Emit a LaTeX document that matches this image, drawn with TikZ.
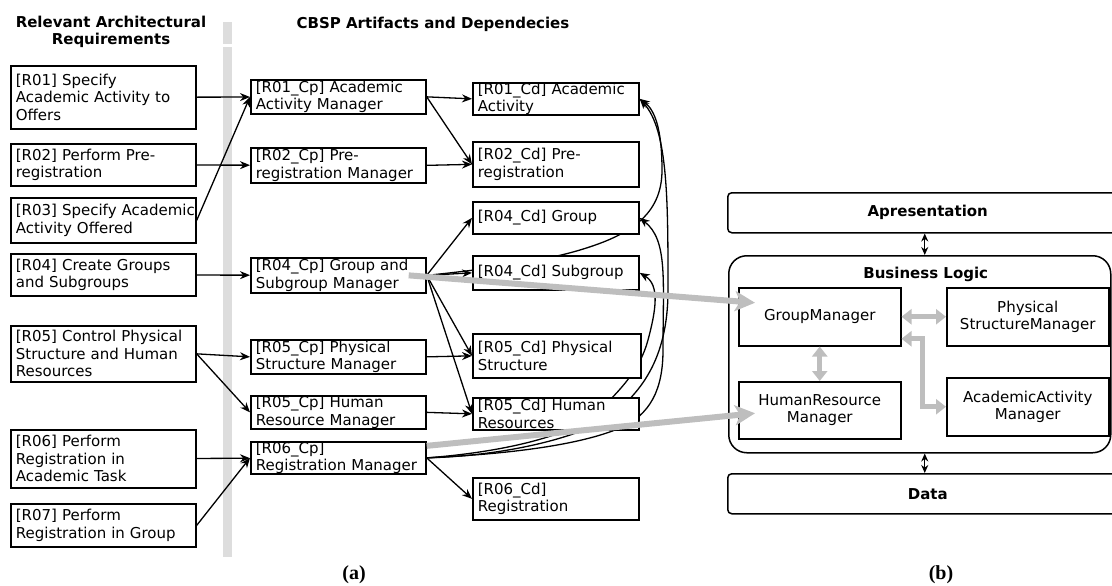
\documentclass[tikz,border=0pt]{standalone}
\usepackage{fontspec}
\setmainfont{DejaVu Sans}
\newfontfamily\capfont{Liberation Serif}
\usepackage{tikz}
\usetikzlibrary{arrows.meta}
\usetikzlibrary{backgrounds}
\newcommand{\boxfont}{\fontsize{15}{17.5}\selectfont}
\definecolor{bargray}{RGB}{221,221,221}
\definecolor{linkgray}{RGB}{190,190,190}
\tikzset{
  req/.style={draw, line width=1.7pt, fill=white, anchor=north west, align=left,
    inner xsep=5pt, inner ysep=0pt, font=\boxfont},
  reqbox/.style={req, text width=175pt},
  cpbox/.style={req, text width=165pt},
  cdbox/.style={req, text width=156pt},
  layerbox/.style={draw, line width=1.5pt, anchor=north west, rounded corners=4pt, font=\boxfont\bfseries},
  compbox/.style={draw, line width=1.5pt, anchor=north west, align=center, minimum width=162pt, font=\boxfont},
  dep/.style={->, line width=1.3pt},
  gdep/.style={{Triangle[length=10pt,width=15pt]}-{Triangle[length=10pt,width=15pt]}, line width=5pt, draw=linkgray},
  link/.style={-{Stealth[length=20pt,width=20pt,inset=5pt]}, line width=6pt, draw=linkgray},
  tier/.style={{Stealth[length=8pt,width=7pt]}-{Stealth[length=8pt,width=7pt]}, line width=1.4pt},
}

\begin{document}
\begin{tikzpicture}[x=1pt,y=-1pt,>={Stealth[length=10pt,width=8pt]}]
\useasboundingbox (0,0) rectangle (1112,586);
% separator
\fill[bargray] (223,22) rectangle (232,44);
\fill[bargray] (223,47) rectangle (232,557);

\node[font=\boxfont\bfseries, align=center] (hreq) at (111,32) {Relevant Architectural\\Requirements};
\node[font=\boxfont\bfseries] (hcbsp) at (433,24) {CBSP Artifacts and Dependecies};

% requirements
\node[reqbox, minimum height=63pt] (r1) at (10,65) {[R01] Specify\\Academic Activity to\\Offers};
\node[reqbox, minimum height=42pt] (r2) at (10,143) {[R02] Perform Pre-\\registration};
\node[reqbox, minimum height=45pt] (r3) at (10,197) {\mbox{[R03] Specify Academic}\\Activity Offered};
\node[reqbox, minimum height=42pt] (r4) at (10,253) {[R04] Create Groups\\and Subgroups};
\node[reqbox, minimum height=56pt] (r5) at (10,325) {[R05] Control Physical\\Structure and Human\\Resources};
\node[reqbox, minimum height=58pt] (r6) at (10,429) {[R06] Perform\\Registration in\\Academic Task};
\node[reqbox, minimum height=43pt] (r7) at (10,503) {[R07] Perform\\Registration in Group};

% components
\node[cpbox, minimum height=34pt] (cp1) at (250,79) {[R01\_Cp] Academic\\Activity Manager};
\node[cpbox, minimum height=35pt] (cp2) at (250,147) {[R02\_Cp] Pre-\\registration Manager};
\node[cpbox, minimum height=35pt] (cp4) at (250,257) {[R04\_Cp] Group and\\Subgroup Manager};
\node[cpbox, minimum height=34pt] (cp5a) at (250,339) {[R05\_Cp] Physical\\Structure Manager};
\node[cpbox, minimum height=33pt] (cp5b) at (250,395) {[R05\_Cp] Human\\Resource Manager};
\node[cpbox, minimum height=32pt] (cp6) at (250,441) {[R06\_Cp]\\Registration Manager};

% data
\node[cdbox, minimum height=31pt] (cd1) at (472,82) {[R01\_Cd] Academic\\Activity};
\node[cdbox, minimum height=45pt] (cd2) at (472,141) {[R02\_Cd] Pre-\\registration};
\node[cdbox, minimum height=32pt] (cd4a) at (472,201) {[R04\_Cd] Group};
\node[cdbox, minimum height=34pt] (cd4b) at (472,255) {[R04\_Cd] Subgroup};
\node[cdbox, text width=158pt, minimum height=44pt] (cd5a) at (472,333) {[R05\_Cd] Physical\\Structure};
\node[cdbox, minimum height=32pt] (cd5b) at (472,397) {[R05\_Cd] Human\\Resources};
\node[cdbox, minimum height=42pt] (cd6) at (472,477) {[R06\_Cd]\\Registration};

% requirement -> component
\draw[dep] (r1) -- (cp1);
\draw[dep] (r2) -- (cp2);
\draw[dep] (r3.east) -- (cp1.west);
\draw[dep] (r4) -- (cp4);
\draw[dep] (r5.east) -- (cp5a.west);
\draw[dep] (r5.east) -- (cp5b.west);
\draw[dep] (r6) -- (cp6);
\draw[dep] (r7.east) -- (cp6.west);

% component -> data
\draw[dep] (cp1.east) -- (cd1.west);
\draw[dep] (cp1.east) -- (cd2.west);
\draw[dep] (cp2.east) -- (cd2.west);
\draw[dep] (cp4.east) -- (cd4a.west);
\draw[dep] (cp4.east) -- (cd4b.west);
\draw[dep] (cp4.east) -- (cd5a.west);
\draw[dep] (cp4.east) -- (cd5b.west);
\draw[dep] (cp5a.east) -- (cd5a.west);
\draw[dep] (cp5b.east) -- (cd5b.west);
\draw[dep] (cp6.east) -- (cd6.west);

% curved dependencies behind the boxes
\begin{scope}[on background layer]
\draw[dep] (cp6.east) .. controls (500,456) and (570,440) .. (605,420) .. controls (640,395) and (668,360) .. (668,290) .. controls (668,200) and (668,130) .. (cd1.east);
\draw[dep] (cp6.east) .. controls (505,452) and (575,435) .. (600,410) .. controls (620,390) and (640,370) .. (648,340) .. controls (656,310) and (660,285) .. (cd4b.east);
\draw[dep] (cp6.east) .. controls (510,454) and (580,445) .. (620,428) .. controls (650,415) and (663,390) .. (663,350) .. controls (663,280) and (668,240) .. (cd4a.east);
\draw[dep] (cp4.east) .. controls (480,270) and (540,262) .. (580,250) .. controls (630,235) and (662,215) .. (662,170) .. controls (662,130) and (655,110) .. (cd1.east);
\end{scope}

% layers (b)
\node[layerbox, minimum width=400pt, minimum height=40pt] (ap) at (727,192) {Apresentation};
\node[draw, line width=1.5pt, anchor=north west, rounded corners=18pt, minimum width=382pt, minimum height=197pt] (bl) at (728,255) {};
\node[font=\boxfont\bfseries] (bltitle) at ([xshift=6pt,yshift=-19pt]bl.north) {Business Logic};
\node[layerbox, minimum width=400pt, minimum height=40pt] (data) at (727,473) {Data};

\node[compbox, minimum height=58pt] (gm) at (738,287) {GroupManager};
\node[compbox, minimum height=58pt] (psm) at (946,287) {Physical\\StructureManager};
\node[compbox, minimum height=57pt] (hrm) at (738,381) {HumanResource\\Manager};
\node[compbox, minimum height=58pt] (aam) at (946,377) {AcademicActivity\\Manager};

\draw[tier] ([xshift=-3pt]ap.south) -- ([xshift=-3pt]ap.south |- bl.north);
\draw[tier] ([xshift=-3pt]data.north) -- ([xshift=-3pt]data.north |- bl.south);

\draw[gdep] (gm) -- (psm);
\draw[gdep] (gm) -- (hrm);
\draw[gdep] ([yshift=-22pt]gm.east) -- ++(21,0) |- (aam.west);

% mapping (a) -> (b)
\draw[link] ([xshift=-18pt]cp4.east) -- ([xshift=17pt,yshift=14pt]gm.west);
\draw[link] ([yshift=12pt]cp6.east) -- ([xshift=17pt,yshift=-3pt]hrm.west);

\node[font=\capfont\bfseries\fontsize{20}{20}\selectfont] (capa) at (354,575) {(a)};
\node[font=\capfont\bfseries\fontsize{20}{20}\selectfont] (capb) at (941,575) {(b)};
\end{tikzpicture}
\end{document}
